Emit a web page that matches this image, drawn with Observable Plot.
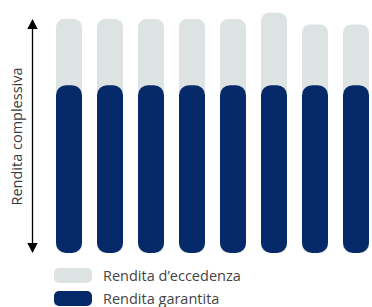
<!DOCTYPE html>
<html>
<head>
<meta charset="utf-8">
<script src="https://cdn.jsdelivr.net/npm/d3@7"></script>
<script src="https://cdn.jsdelivr.net/npm/@observablehq/plot@0.6"></script>
<style>
  html, body { margin: 0; padding: 0; background: #fff; }
  body { width: 372px; height: 307px; overflow: hidden; font-family: "Open Sans", sans-serif; }
  #legend { margin-top: 12px; margin-left: 54px; }
  .row { display: flex; align-items: center; height: 15px; margin-bottom: 8px; }
  .sw { width: 38px; height: 15px; border-radius: 5px; margin-right: 11px; flex: none; }
  .lab { font-size: 14.5px; color: #444; line-height: 15px; }
</style>
</head>
<body>
<div id="chart"></div>
<div id="legend"></div>
<script>
const categories = ["1", "2", "3", "4", "5", "6", "7", "8"];
const garantita = [100, 100, 100, 100, 100, 100, 100, 100];
const eccedenza = [39.4, 39.4, 39.4, 39.4, 39.4, 43.1, 36.2, 36.2];
const seriesNames = ["Rendita d\u2019eccedenza", "Rendita garantita"];
const yLabel = "Rendita complessiva";

const colLight = "#dce3e2";
const colDark = "#062a69";

const data = categories.map((c, i) => ({
  cat: c,
  g: garantita[i],
  total: garantita[i] + eccedenza[i]
}));

const chart = Plot.plot({
  width: 372,
  height: 256,
  marginLeft: 54,
  marginRight: 0,
  marginTop: 13,
  marginBottom: 3,
  x: { domain: categories, paddingInner: 0.36, paddingOuter: 0, axis: null },
  y: { domain: [0, 143], axis: null },
  style: { fontFamily: "Open Sans, sans-serif", background: "white" },
  marks: [
    Plot.barY(data, { x: "cat", y1: 0, y2: "total", fill: colLight, rx: 8, inset: 0 }),
    Plot.barY(data, { x: "cat", y1: 0, y2: "g", fill: colDark, rx: 10, inset: 0 }),
    Plot.text([yLabel], {
      frameAnchor: "left", rotate: -90, dx: -37, dy: 3,
      text: d => d, fontSize: 14.5, fill: "#3a3a3a", textAnchor: "middle"
    })
  ]
});
document.getElementById("chart").appendChild(chart);

// double-headed arrow along the left side, spanning the y scale
const y = chart.scale("y");
const yTop = y.apply(garantita[0] + eccedenza[0]);
const yBot = y.apply(0);
const ax = 32.5;
const svg = d3.select(chart.tagName.toLowerCase() === "svg" ? chart : chart.querySelector("svg"));
const g = svg.append("g");
g.append("line").attr("x1", ax).attr("x2", ax).attr("y1", yTop + 6).attr("y2", yBot - 6)
  .attr("stroke", "#000").attr("stroke-width", 1.3);
g.append("path").attr("d", `M${ax},${yTop} L${ax - 5.2},${yTop + 10} L${ax + 5.2},${yTop + 10} Z`).attr("fill", "#000");
g.append("path").attr("d", `M${ax},${yBot} L${ax - 5.2},${yBot - 10} L${ax + 5.2},${yBot - 10} Z`).attr("fill", "#000");

// legend
const legend = document.getElementById("legend");
[[seriesNames[0], colLight], [seriesNames[1], colDark]].forEach(([name, col]) => {
  const row = document.createElement("div");
  row.className = "row";
  const sw = document.createElement("div");
  sw.className = "sw";
  sw.style.background = col;
  const lab = document.createElement("span");
  lab.className = "lab";
  lab.textContent = name;
  row.appendChild(sw);
  row.appendChild(lab);
  legend.appendChild(row);
});
</script>
</body>
</html>
